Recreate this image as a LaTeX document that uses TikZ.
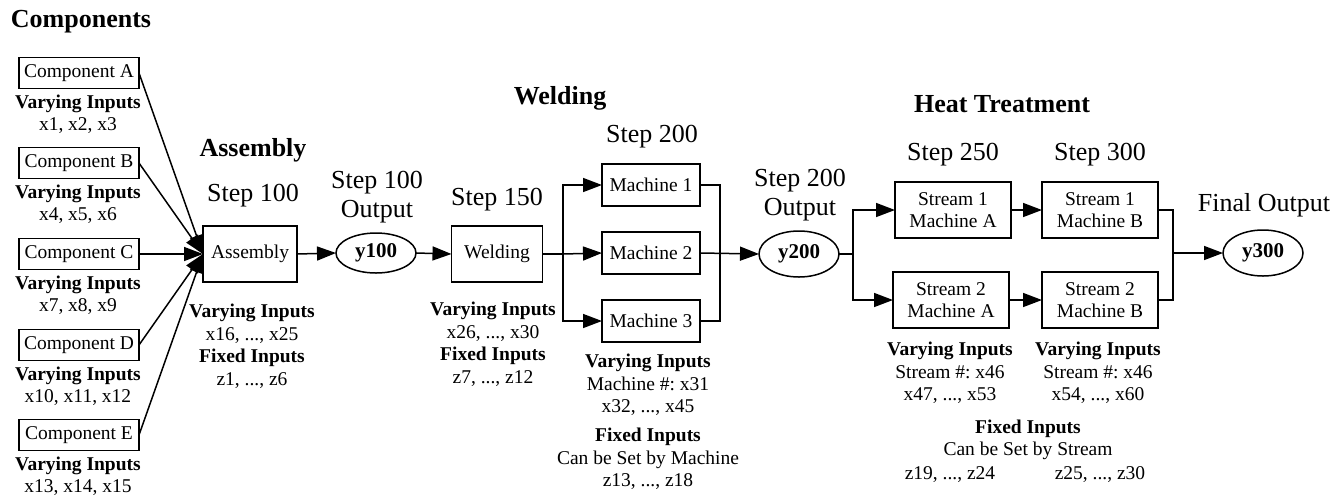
\documentclass[tikz,border=0pt]{standalone}
\usepackage{fontspec}
\setmainfont{Liberation Serif}
\usetikzlibrary{arrows.meta,shapes.geometric}
\begin{document}
\frenchspacing
\begin{tikzpicture}[x=1pt,y=-1pt,
 every node/.style={inner sep=0pt, outer sep=0pt},
 lbl/.style={font=\fontsize{19.5}{22.5}\selectfont, align=center},
 big/.style={font=\fontsize{26}{29}\selectfont, align=center},
 head/.style={font=\fontsize{26}{29}\selectfont\bfseries},
 box/.style={draw, line width=1.5pt, font=\fontsize{19.5}{22.5}\selectfont, align=center},
 oval/.style={draw, ellipse, line width=1.5pt, minimum width=80pt, minimum height=42pt, font=\fontsize{21}{23}\selectfont\bfseries},
 conn/.style={line width=1.5pt, -{Triangle[length=19pt,width=14pt]}},
 wire/.style={line width=1.5pt}]
\useasboundingbox (0,0) rectangle (1332,499);

% Components
\node[head] (hcomp) at (81,22) {Components};
\foreach \n/\l/\y/\v in {cA/A/73/{x1, x2, x3}, cB/B/163/{x4, x5, x6}, cC/C/254/{x7, x8, x9}, cD/D/345/{x10, x11, x12}, cE/E/435/{x13, x14, x15}}{
  \node[box, minimum width=120pt, minimum height=31pt] (\n) at (79,\y) {Component \l};
  \node[lbl] (\n lab) at (78,\y+41) {\textbf{Varying Inputs}\\\v};
}

% Assembly
\node[head] (hasm) at (253,150) {Assembly};
\node[big] (s100) at (253,196) {Step 100};
\node[box, minimum width=94pt, minimum height=56pt] (asm) at (250,254) {Assembly};
\node[lbl] (asmlab) at (252,346) {\textbf{Varying Inputs}\\x16, ..., x25\\\textbf{Fixed Inputs}\\z1, ..., z6};
\foreach \n in {cA,cB,cC,cD,cE}{\draw[conn] (\n.east) -- (asm.west);}

% y100
\node[big] (s100out) at (377,197) {Step 100\\Output};
\node[oval, minimum height=40pt] (y100) at (376,253) {y100};
\draw[conn] (asm.east) -- (y100.west);

% Welding
\node[head] (hweld) at (560,98) {Welding};
\node[big] (s150) at (497,200) {Step 150};
\node[box, minimum width=91pt, minimum height=56pt] (weld) at (497,254) {Welding};
\draw[conn] (y100.east) -- (weld.west);
\node[lbl] (weldlab) at (493,344) {\textbf{Varying Inputs}\\x26, ..., x30\\\textbf{Fixed Inputs}\\z7, ..., z12};

\node[big] (s200) at (652,137) {Step 200};
\node[box, minimum width=98pt, minimum height=42pt] (m1) at (651,185) {Machine 1};
\node[box, minimum width=98pt, minimum height=42pt] (m2) at (651,253) {Machine 2};
\node[box, minimum width=98pt, minimum height=42pt] (m3) at (651,321) {Machine 3};
\coordinate (wb) at (563,254);
\draw[wire] (weld.east) -- (wb);
\draw[conn] (wb) |- (m1.west);
\draw[conn] (wb) -- (m2.west);
\draw[conn] (wb) |- (m3.west);
\node[lbl] (mlab) at (648,385) {\textbf{Varying Inputs}\\Machine \#: x31\\x32, ..., x45};
\node[lbl] (mfix) at (648,459) {\textbf{Fixed Inputs}\\Can be Set by Machine\\z13, ..., z18};

% y200
\node[big] (s200out) at (800,195) {Step 200\\Output};
\node[oval, minimum height=46pt] (y200) at (799,254) {y200};
\coordinate (wm) at (720,253);
\draw[wire] (m1.east) -| (wm);
\draw[wire] (m3.east) -| (wm);
\draw[conn] (m2.east) -- (y200.west);

% Heat treatment
\node[head] (hheat) at (1002,104) {Heat Treatment};
\node[big] (s250) at (953,155) {Step 250};
\node[big] (s300) at (1100,155) {Step 300};
\node[box, minimum width=116pt, minimum height=56pt] (s1a) at (953,210) {Stream 1\\Machine A};
\node[box, minimum width=116pt, minimum height=56pt] (s2a) at (951,300) {Stream 2\\Machine A};
\node[box, minimum width=116pt, minimum height=56pt] (s1b) at (1100,210) {Stream 1\\Machine B};
\node[box, minimum width=116pt, minimum height=56pt] (s2b) at (1100,300) {Stream 2\\Machine B};
\coordinate (hb) at (853,254);
\draw[wire] (y200.east) -- (hb);
\draw[conn] (hb) |- (s1a.west);
\draw[conn] (hb) |- (s2a.west);
\draw[conn] (s1a.east) -- (s1b.west);
\draw[conn] (s2a.east) -- (s2b.west);

\node[big] (final) at (1264,205) {Final Output};
\node[oval, minimum height=46pt] (y300) at (1263,253) {y300};
\coordinate (hm) at (1173,253);
\draw[wire] (s1b.east) -| (hm);
\draw[wire] (s2b.east) -| (hm);
\draw[conn] (hm) -- (y300.west);

\node[lbl] (s1lab) at (950,373) {\textbf{Varying Inputs}\\Stream \#: x46\\x47, ..., x53};
\node[lbl] (s2lab) at (1098,373) {\textbf{Varying Inputs}\\Stream \#: x46\\x54, ..., x60};
\node[lbl] (sfix) at (1028,440) {\textbf{Fixed Inputs}\\Can be Set by Stream};
\node[lbl] (z19) at (950,475) {z19, ..., z24};
\node[lbl] (z25) at (1100,475) {z25, ..., z30};
\end{tikzpicture}
\end{document}
